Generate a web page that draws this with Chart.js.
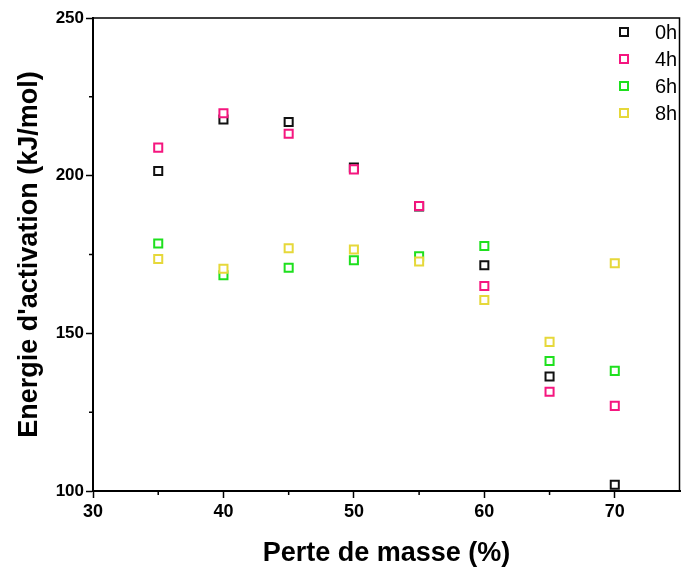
<!DOCTYPE html>
<html>
<head>
<meta charset="utf-8">
<script src="https://cdn.jsdelivr.net/npm/chart.js@4"></script>
<style>
  html, body { margin: 0; padding: 0; background: #fff; }
  #wrap { width: 681px; height: 570px; position: relative; }
</style>
</head>
<body>
<div id="wrap"><canvas id="chart"></canvas></div>
<script>
// values
const masseLoss = [35, 40, 45, 50, 55, 60, 65, 70];
const e0h = [201.5, 217.8, 217.0, 202.6, 190.2, 171.6, 136.3, 102.0];
const e4h = [208.9, 219.8, 213.3, 202.0, 190.4, 165.0, 131.5, 127.0];
const e6h = [178.5, 168.4, 170.8, 173.2, 174.4, 177.7, 141.2, 138.1];
const e8h = [173.6, 170.5, 177.0, 176.6, 172.8, 160.6, 147.3, 172.2];
const seriesLabels = ['0h', '4h', '6h', '8h'];
const xTicksMajor = [30, 40, 50, 60, 70];
const yTicksMajor = [100, 150, 200, 250];

const colors = ['#111111', '#f5167f', '#1ee01e', '#e6d83a'];
const allSeries = [e0h, e4h, e6h, e8h];

const toPoints = (vals) => vals.map((v, i) => ({ x: masseLoss[i], y: v }));

// box + minor ticks + legend inside the plot
const extras = {
  id: 'extras',
  afterDraw(chart) {
    const { ctx, chartArea: a, scales } = chart;
    ctx.save();
    ctx.strokeStyle = '#000';
    ctx.lineWidth = 1.5;
    ctx.beginPath();
    ctx.moveTo(a.left, a.top);
    ctx.lineTo(a.right - 0.5, a.top);
    ctx.lineTo(a.right - 0.5, a.bottom);
    ctx.stroke();

    // minor ticks
    ctx.lineWidth = 1.5;
    ctx.beginPath();
    [35, 45, 55, 65].forEach(v => {
      const px = scales.x.getPixelForValue(v);
      ctx.moveTo(px, a.bottom);
      ctx.lineTo(px, a.bottom + 4);
    });
    [125, 175, 225].forEach(v => {
      const py = scales.y.getPixelForValue(v);
      ctx.moveTo(a.left, py);
      ctx.lineTo(a.left - 4, py);
    });
    ctx.stroke();

    // legend
    ctx.font = '20px "Liberation Sans", Arial, sans-serif';
    ctx.textBaseline = 'middle';
    ctx.textAlign = 'left';
    seriesLabels.forEach((lab, i) => {
      const y = 32 + i * 27;
      ctx.strokeStyle = colors[i];
      ctx.lineWidth = 2;
      ctx.fillStyle = '#fff';
      ctx.fillRect(620, y - 4, 8, 8);
      ctx.strokeRect(620, y - 4, 8, 8);
      ctx.fillStyle = '#000';
      ctx.fillText(lab, 655, y + 1);
    });
    ctx.restore();
  }
};

const datasets = allSeries.map((vals, i) => ({
  label: seriesLabels[i],
  data: toPoints(vals),
  showLine: false,
  pointStyle: 'rect',
  pointRadius: 5.7,
  pointHoverRadius: 5.7,
  borderWidth: 2,
  borderColor: colors[i],
  backgroundColor: '#ffffff',
  order: 4 - i
}));

new Chart(document.getElementById('chart'), {
  type: 'scatter',
  data: { datasets },
  options: {
    responsive: true,
    maintainAspectRatio: false,
    animation: false,
    layout: { autoPadding: false, padding: { top: 18, right: 1, left: 0, bottom: 0 } },
    plugins: {
      legend: { display: false },
      tooltip: { enabled: false }
    },
    scales: {
      x: {
        type: 'linear',
        min: 30,
        max: 75,
        afterFit: (s) => { s.height = 79; },
        afterBuildTicks: (s) => { s.ticks = xTicksMajor.map(v => ({ value: v })); },
        grid: { drawOnChartArea: false, tickLength: 7, tickWidth: 1.5, tickColor: '#000' },
        border: { display: true, color: '#000', width: 2 },
        ticks: {
          color: '#000',
          padding: 3,
          font: { family: '"Liberation Sans", Arial, sans-serif', size: 18, weight: 'bold' }
        },
        title: {
          display: true,
          text: 'Perte de masse (%)',
          color: '#000',
          padding: { top: 4, bottom: 0 },
          font: { family: '"Liberation Sans", Arial, sans-serif', size: 27, weight: 'bold' }
        }
      },
      y: {
        type: 'linear',
        min: 100,
        max: 250,
        afterFit: (s) => { s.width = 93; },
        afterBuildTicks: (s) => { s.ticks = yTicksMajor.map(v => ({ value: v })); },
        grid: { drawOnChartArea: false, tickLength: 7, tickWidth: 1.5, tickColor: '#000' },
        border: { display: true, color: '#000', width: 2 },
        ticks: {
          color: '#000',
          padding: 2,
          font: { family: '"Liberation Sans", Arial, sans-serif', size: 17, weight: 'bold' }
        },
        title: {
          display: true,
          text: "Energie d'activation (kJ/mol)",
          color: '#000',
          padding: { top: 13, bottom: 0 },
          font: { family: '"Liberation Sans", Arial, sans-serif', size: 27, weight: 'bold' }
        }
      }
    }
  },
  plugins: [extras]
});
</script>
</body>
</html>
